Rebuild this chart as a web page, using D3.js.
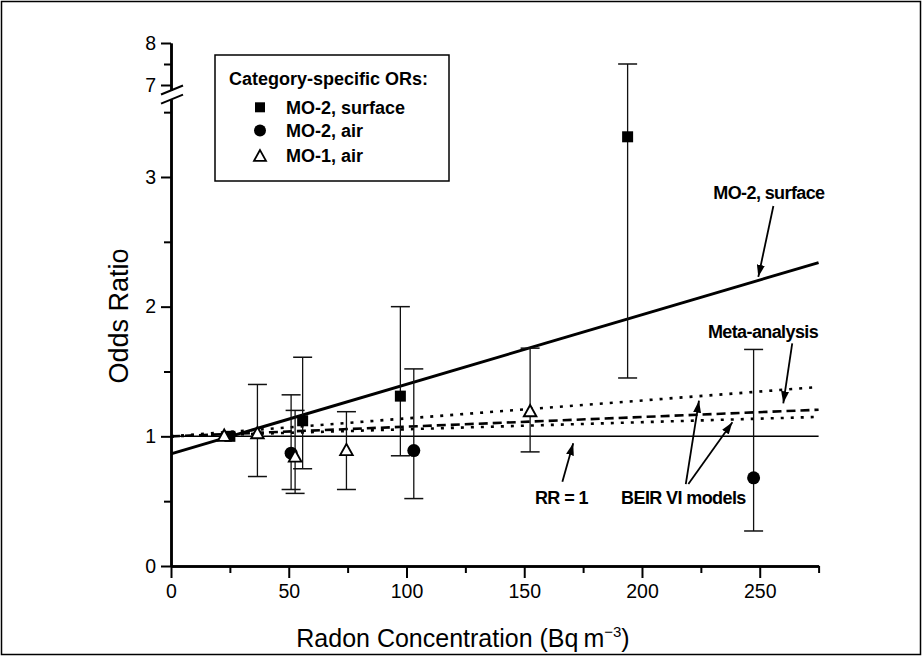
<!DOCTYPE html>
<html>
<head>
<meta charset="utf-8">
<script src="https://cdn.jsdelivr.net/npm/d3@7"></script>
<style>
  html, body { margin: 0; padding: 0; background: #fff; }
  svg { display: block; font-family: "Liberation Sans", Arial, Helvetica, sans-serif; }
</style>
</head>
<body>
<svg id="chart" width="922" height="656"></svg>
<script>
// ---------------- data ----------------
// MO-2, surface (filled squares)
const surfX  = [25, 55.9, 97.4, 193.9];
const surfOR = [1.0, 1.12, 1.31, 3.31];
const surfLo = [null, 0.75, 0.85, 1.45];
const surfHi = [null, 1.61, 2.0, 7.5];
// MO-2, air (filled circles)
const airX  = [51, 103.1, 247.4];
const airOR = [0.87, 0.89, 0.68];
const airLo = [0.59, 0.52, 0.27];
const airHi = [1.32, 1.52, 1.67];
// MO-1, air (open triangles)
const mo1X  = [22.6, 36.7, 52.7, 74.5, 152.5];
const mo1OR = [1.0, 1.02, 0.84, 0.89, 1.19];
const mo1Lo = [null, 0.69, 0.56, 0.59, 0.88];
const mo1Hi = [null, 1.40, 1.20, 1.19, 1.68];
// fitted lines (endpoints at radon 0 and 275)
const lineX      = [0, 275];
const surfLine   = [0.865, 2.34];
const beirHigh   = [1.0, 1.38];
const metaLine   = [1.0, 1.205];
const beirLow    = [1.0, 1.15];
const rrLine     = [1.0, 1.0];
// ticks
const xMajor = [0, 50, 100, 150, 200, 250];
const xMinor = [25, 75, 125, 175, 225, 275];
const yMajorLow = [0, 1, 2, 3];
const yMinorLow = [0.5, 1.5, 2.5, 3.5];
const yMajorHigh = [7, 8];
const yMinorHigh = [7.5];
// legend
const legendTitle = "Category-specific ORs:";
const legendLabels = ["MO-2, surface", "MO-2, air", "MO-1, air"];
// annotations: label, label position (radon, OR), arrow tails and tips (radon, OR)
const annLabels = ["MO-2, surface", "Meta-analysis", "RR = 1", "BEIR VI models"];
const annPos    = [[253.9, 2.88], [251.4, 1.807], [165.8, 0.524], [217.6, 0.524]];
const arrowFrom = [[255.8, 2.776], [263.8, 1.717], [166.2, 0.65], [218.6, 0.632], [219.7, 0.632]];
const arrowTo   = [[249.4, 2.23], [260.0, 1.255], [170.8, 0.946], [224.2, 1.275], [238.4, 1.108]];

// ---------------- scales ----------------
const svg = d3.select("#chart");
const x = d3.scaleLinear().domain([0, 275]).range([171, 818.6]);
const yLow = d3.scaleLinear().domain([0, 3.6]).range([566, 566 - 3.6 * 129.67]);
const yHigh = d3.scaleLinear().domain([6.88, 8]).range([43 + 1.12 * 42, 43]);
const y = v => (v <= 3.6 ? yLow(v) : yHigh(v));

// outer frame
svg.append("rect").attr("x", 1.5).attr("y", 1.5).attr("width", 919).attr("height", 653)
  .attr("fill", "none").attr("stroke", "#000").attr("stroke-width", 1.5);

// arrow marker
svg.append("defs").append("marker")
  .attr("id", "ah").attr("viewBox", "0 0 12 8").attr("refX", 12).attr("refY", 4)
  .attr("markerWidth", 12).attr("markerHeight", 8).attr("markerUnits", "userSpaceOnUse")
  .attr("orient", "auto")
  .append("path").attr("d", "M0,0 L12,4 L0,8 Z").attr("fill", "#000");

// ---------------- axes ----------------
function styleAxis(g, sw) {
  g.select(".domain").attr("stroke", "#000").attr("stroke-width", sw);
  g.selectAll(".tick line").attr("stroke", "#000").attr("stroke-width", 2);
  g.selectAll(".tick text").attr("fill", "#000").style("font-size", "19.5px")
    .style("font-family", "'Liberation Sans', Arial, sans-serif");
}
const gx = svg.append("g").attr("transform", "translate(0,566)")
  .call(d3.axisBottom(x).tickValues(xMajor).tickSize(12).tickPadding(6).tickSizeOuter(0).tickFormat(d3.format("d")));
styleAxis(gx, 2.5);
const gxm = svg.append("g").attr("transform", "translate(0,566)")
  .call(d3.axisBottom(x).tickValues(xMinor).tickSize(7).tickSizeOuter(0).tickFormat(""));
styleAxis(gxm, 2.5);

const gyl = svg.append("g").attr("transform", "translate(171,0)")
  .call(d3.axisLeft(yLow).tickValues(yMajorLow).tickSize(10).tickPadding(5).tickSizeOuter(0).tickFormat(d3.format("d")));
styleAxis(gyl, 2.5);
const gylm = svg.append("g").attr("transform", "translate(171,0)")
  .call(d3.axisLeft(yLow).tickValues(yMinorLow).tickSize(7).tickSizeOuter(0).tickFormat(""));
styleAxis(gylm, 2.5);
const gyh = svg.append("g").attr("transform", "translate(171,0)")
  .call(d3.axisLeft(yHigh).tickValues(yMajorHigh).tickSize(10).tickPadding(5).tickSizeOuter(0).tickFormat(d3.format("d")));
styleAxis(gyh, 2.5);
const gyhm = svg.append("g").attr("transform", "translate(171,0)")
  .call(d3.axisLeft(yHigh).tickValues(yMinorHigh).tickSize(7).tickSizeOuter(0).tickFormat(""));
styleAxis(gyhm, 2.5);

// axis break marks
const breakY = [yHigh(6.88), yLow(3.6)];
breakY.forEach(by => {
  svg.append("line").attr("x1", 161).attr("y1", by + 4.5).attr("x2", 183).attr("y2", by - 4.5)
    .attr("stroke", "#000").attr("stroke-width", 2);
});

// axis titles
svg.append("text").attr("transform", "translate(128,316) rotate(-90)")
  .attr("text-anchor", "middle").style("font-size", "27px").attr("fill", "#000").text("Odds Ratio");
const xt = svg.append("text").attr("x", 463).attr("y", 647).attr("text-anchor", "middle")
  .style("font-size", "25px").attr("fill", "#000");
xt.append("tspan").text("Radon Concentration (Bq\u2009m");
xt.append("tspan").attr("dy", -10).style("font-size", "15px").text("\u22123");
xt.append("tspan").attr("dy", 10).text(")");

// ---------------- lines ----------------
function drawLine(vals, sw, dash) {
  const pts = lineX.map((xv, i) => [x(xv), y(vals[i])]);
  svg.append("path").attr("d", d3.line()(pts)).attr("fill", "none")
    .attr("stroke", "#000").attr("stroke-width", sw)
    .attr("stroke-dasharray", dash || null);
}
drawLine(rrLine, 1.5);
drawLine(beirLow, 2.6, "3,7");
drawLine(metaLine, 2.6, "9,5");
drawLine(beirHigh, 2.6, "3,7");
drawLine(surfLine, 3);

// ---------------- error bars ----------------
function drawErr(xs, lo, hi) {
  xs.forEach((xv, i) => {
    if (lo[i] == null) return;
    const cx = x(xv), y1 = y(lo[i]), y2 = y(hi[i]);
    svg.append("line").attr("x1", cx).attr("x2", cx).attr("y1", y1).attr("y2", y2)
      .attr("stroke", "#111").attr("stroke-width", 1.3);
    [y1, y2].forEach(yy => svg.append("line").attr("x1", cx - 9.5).attr("x2", cx + 9.5)
      .attr("y1", yy).attr("y2", yy).attr("stroke", "#111").attr("stroke-width", 1.5));
  });
}
drawErr(surfX, surfLo, surfHi);
drawErr(airX, airLo, airHi);
drawErr(mo1X, mo1Lo, mo1Hi);

// ---------------- markers ----------------
function triPath(cx, cy, w) {
  const h = w * 0.9;
  return `M${cx},${cy - h * 0.6} L${cx - w / 2},${cy + h * 0.4} L${cx + w / 2},${cy + h * 0.4} Z`;
}
svg.append("g").selectAll("rect").data(surfX.map((xv, i) => [xv, surfOR[i]])).join("rect")
  .attr("x", d => x(d[0]) - 5.5).attr("y", d => y(d[1]) - 5.5)
  .attr("width", 11).attr("height", 11).attr("fill", "#000");
svg.append("g").selectAll("circle").data(airX.map((xv, i) => [xv, airOR[i]])).join("circle")
  .attr("cx", d => x(d[0])).attr("cy", d => y(d[1])).attr("r", 6.5).attr("fill", "#000");
svg.append("g").selectAll("path").data(mo1X.map((xv, i) => [xv, mo1OR[i]])).join("path")
  .attr("d", d => triPath(x(d[0]), y(d[1]), 12.5))
  .attr("fill", "#fff").attr("stroke", "#000").attr("stroke-width", 1.9);

// ---------------- annotations ----------------
annLabels.forEach((t, i) => {
  svg.append("text").attr("x", x(annPos[i][0])).attr("y", y(annPos[i][1]))
    .attr("text-anchor", "middle").attr("dominant-baseline", "central")
    .style("font-size", "18px").style("font-weight", "bold").style("letter-spacing", "-0.6px")
    .attr("fill", "#000").text(t);
});
arrowFrom.forEach((f, i) => {
  svg.append("line").attr("x1", x(f[0])).attr("y1", y(f[1]))
    .attr("x2", x(arrowTo[i][0])).attr("y2", y(arrowTo[i][1]))
    .attr("stroke", "#000").attr("stroke-width", 1.8).attr("marker-end", "url(#ah)");
});

// ---------------- legend ----------------
const lg = svg.append("g");
lg.append("rect").attr("x", 215).attr("y", 55).attr("width", 234).attr("height", 126)
  .attr("fill", "#fff").attr("stroke", "#000").attr("stroke-width", 1.5);
lg.append("text").attr("x", 229).attr("y", 85).style("font-size", "18px").style("font-weight", "bold")
  .attr("fill", "#000").text(legendTitle);
const rowY = [107.3, 130.5, 155.5];
lg.append("rect").attr("x", 255).attr("y", rowY[0] - 5).attr("width", 10).attr("height", 10).attr("fill", "#000");
lg.append("circle").attr("cx", 260).attr("cy", rowY[1]).attr("r", 6).attr("fill", "#000");
lg.append("path").attr("d", triPath(260, rowY[2] + 1, 12)).attr("fill", "#fff").attr("stroke", "#000").attr("stroke-width", 1.8);
legendLabels.forEach((t, i) => {
  lg.append("text").attr("x", 286).attr("y", rowY[i] + 6.5).style("font-size", "18px").style("font-weight", "bold")
    .attr("fill", "#000").text(t);
});
</script>
</body>
</html>
